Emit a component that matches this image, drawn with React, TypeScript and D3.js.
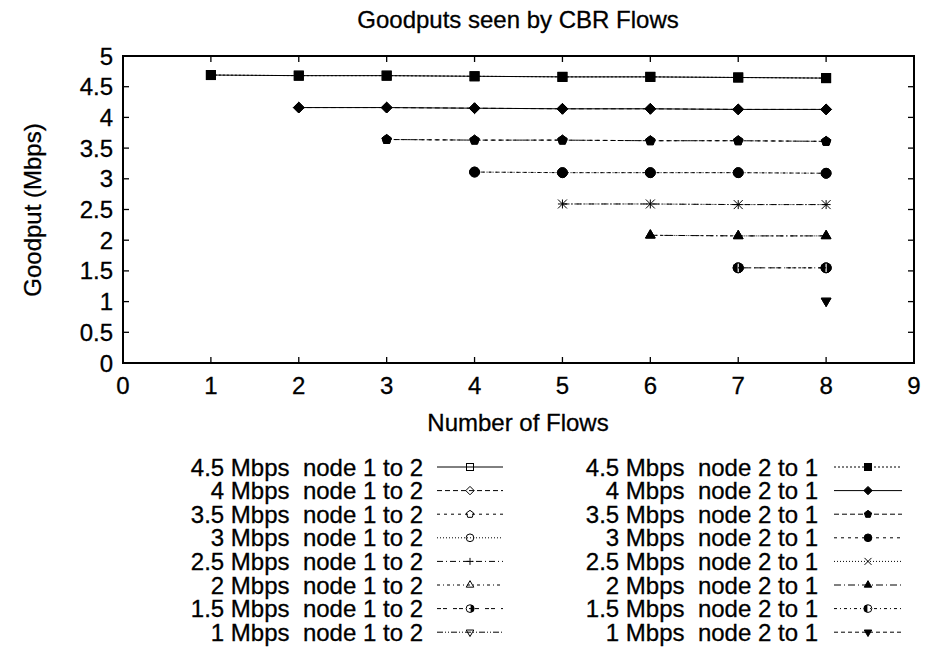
import React from "react";
import * as d3 from "d3";

const flowCounts = [1, 2, 3, 4, 5, 6, 7, 8];
const xTicks = [0, 1, 2, 3, 4, 5, 6, 7, 8, 9];
const yTicks = [0, 0.5, 1, 1.5, 2, 2.5, 3, 3.5, 4, 4.5, 5];
const yTickLabels = ["0", "0.5", "1", "1.5", "2", "2.5", "3", "3.5", "4", "4.5", "5"];
const rateLabels = ["4.5", "4", "3.5", "3", "2.5", "2", "1.5", "1"];

// node 2 to 1 goodputs, series k starts at flowCounts[k]
const g21_45 = [4.69, 4.68, 4.68, 4.67, 4.66, 4.66, 4.65, 4.64];
const g21_40 = [4.16, 4.16, 4.15, 4.14, 4.14, 4.13, 4.13];
const g21_35 = [3.64, 3.63, 3.63, 3.62, 3.62, 3.61];
const g21_30 = [3.11, 3.1, 3.1, 3.1, 3.09];
const g21_25 = [2.59, 2.59, 2.58, 2.58];
const g21_20 = [2.08, 2.07, 2.07];
const g21_15 = [1.55, 1.55];
const g21_10 = [1.01];

// node 1 to 2 goodputs (drawn underneath, same values)
const g12_45 = [4.69, 4.68, 4.68, 4.67, 4.66, 4.66, 4.65, 4.64];
const g12_40 = [4.16, 4.16, 4.15, 4.14, 4.14, 4.13, 4.13];
const g12_35 = [3.64, 3.63, 3.63, 3.62, 3.62, 3.61];
const g12_30 = [3.11, 3.1, 3.1, 3.1, 3.09];
const g12_25 = [2.59, 2.59, 2.58, 2.58];
const g12_20 = [2.08, 2.07, 2.07];
const g12_15 = [1.55, 1.55];
const g12_10 = [1.01];

const series21 = [g21_45, g21_40, g21_35, g21_30, g21_25, g21_20, g21_15, g21_10];
const series12 = [g12_45, g12_40, g12_35, g12_30, g12_25, g12_20, g12_15, g12_10];

const dash12 = ["none", "5,3", "3,4", "1,2", "6,3,1,3", "3,3,1,3", "4,2,4,6", "6,2,1,2,1,2"];
const mark12 = ["osquare", "odiamond", "opentagon", "ocircle", "plus", "otriangle", "halfR", "odown"];
const dash21 = ["2,2", "none", "5,3", "3,4", "1,2", "7,3,1,3", "3,3,1,3", "4,3"];
const mark21 = ["square", "diamond", "pentagon", "circle", "cross", "triangle", "halfL", "down"];

const FONT = "'Liberation Sans', Arial, Helvetica, sans-serif";

function T({ x, y, anchor = "middle", rotate = 0, children }: any) {
  return (
    <text
      transform={`translate(${x},${y}) rotate(${rotate})`}
      textAnchor={anchor}
      fontSize={24}
      fontFamily={FONT}
      fill="#000"
      stroke="#000"
      strokeWidth={0.3}
    >
      {children}
    </text>
  );
}

function Marker({ type, cx, cy, s }: any) {
  const st = { stroke: "#000", strokeWidth: 1 };
  const poly = (n: number, r: number, rot: number) =>
    d3.range(n).map((i) => {
      const a = rot + (i * 2 * Math.PI) / n;
      return [cx + r * Math.cos(a), cy + r * Math.sin(a)];
    });
  const pts = (p: number[][]) => p.map((q) => q.join(",")).join(" ");
  const open = type.startsWith("o");
  const fill = open ? "none" : "#000";
  const base = open ? type.slice(1) : type;
  switch (base) {
    case "square":
      return <rect x={cx - s / 2} y={cy - s / 2} width={s} height={s} fill={fill} {...st} />;
    case "diamond":
      return <polygon points={pts(poly(4, s * 0.6, -Math.PI / 2))} fill={fill} {...st} />;
    case "pentagon":
      return <polygon points={pts(poly(5, s * 0.55, -Math.PI / 2))} fill={fill} {...st} />;
    case "circle":
      return <circle cx={cx} cy={cy} r={s * 0.55} fill={fill} {...st} />;
    case "triangle":
      return <polygon points={pts(poly(3, s * 0.62, -Math.PI / 2))} fill={fill} {...st} />;
    case "down":
      return <polygon points={pts(poly(3, s * 0.62, Math.PI / 2))} fill={fill} {...st} />;
    case "plus":
      return (
        <g {...st}>
          <line x1={cx - s / 2} x2={cx + s / 2} y1={cy} y2={cy} />
          <line x1={cx} x2={cx} y1={cy - s / 2} y2={cy + s / 2} />
        </g>
      );
    case "cross":
      return (
        <g {...st}>
          <line x1={cx - s / 2} x2={cx + s / 2} y1={cy - s / 2} y2={cy + s / 2} />
          <line x1={cx - s / 2} x2={cx + s / 2} y1={cy + s / 2} y2={cy - s / 2} />
        </g>
      );
    case "halfL":
    case "halfR": {
      const r = s * 0.55;
      const left = base === "halfL";
      const arc = left
        ? `M${cx - 0.6},${cy - r} A${r},${r} 0 0 0 ${cx - 0.6},${cy + r} Z`
        : `M${cx + 0.6},${cy - r} A${r},${r} 0 0 1 ${cx + 0.6},${cy + r} Z`;
      return (
        <g>
          <circle cx={cx} cy={cy} r={r} fill="none" {...st} />
          <path d={arc} fill="#000" stroke="none" />
        </g>
      );
    }
  }
  return null;
}

export default function App() {
  const W = 929, H = 650;
  const x = d3.scaleLinear().domain([0, 9]).range([123, 914]);
  const y = d3.scaleLinear().domain([0, 5]).range([363, 56]);
  const line = d3.line<number[]>().x((d) => x(d[0])).y((d) => y(d[1]));
  const toPts = (vals: number[], k: number) => vals.map((v, i) => [flowCounts[k] + i, v]);

  const legendY0 = 467;
  const legendDY = 23.6;

  return (
    <svg width={W} height={H} style={{ position: "absolute", left: 0, top: 0, background: "#fff" }}>
      <rect width={W} height={H} fill="#fff" />
      <T x={518} y={28}>Goodputs seen by CBR Flows</T>
      {/* ticks */}
      <g stroke="#000" strokeWidth={1.3}>
        {xTicks.map((t) => (
          <g key={"xt" + t}>
            <line x1={x(t)} x2={x(t)} y1={y(0)} y2={y(0) - 6} />
            <line x1={x(t)} x2={x(t)} y1={y(5)} y2={y(5) + 6} />
          </g>
        ))}
        {yTicks.map((t) => (
          <g key={"yt" + t}>
            <line x1={x(0)} x2={x(0) + 6} y1={y(t)} y2={y(t)} />
            <line x1={x(9)} x2={x(9) - 6} y1={y(t)} y2={y(t)} />
          </g>
        ))}
      </g>
      {xTicks.map((t) => (
        <T key={"xl" + t} x={x(t)} y={394}>{String(t)}</T>
      ))}
      {yTicks.map((t, i) => (
        <T key={"yl" + t} x={113} y={y(t) + 8.5} anchor="end">{yTickLabels[i]}</T>
      ))}
      <T x={518} y={431}>Number of Flows</T>
      <T x={41} y={210} rotate={-90}>Goodput (Mbps)</T>

      {/* series node 1 to 2 */}
      {series12.map((vals, k) => (
        <g key={"s12" + k}>
          <path d={line(toPts(vals, k) as any) || ""} fill="none" stroke="#000" strokeWidth={1} strokeDasharray={dash12[k]} />
          {toPts(vals, k).map((p, i) => (
            <Marker key={i} type={mark12[k]} cx={x(p[0])} cy={y(p[1])} s={9} />
          ))}
        </g>
      ))}
      {/* series node 2 to 1 */}
      {series21.map((vals, k) => (
        <g key={"s21" + k}>
          <path d={line(toPts(vals, k) as any) || ""} fill="none" stroke="#000" strokeWidth={1} strokeDasharray={dash21[k]} />
          {toPts(vals, k).map((p, i) => (
            <Marker key={i} type={mark21[k]} cx={x(p[0])} cy={y(p[1])} s={9} />
          ))}
        </g>
      ))}

      <rect x={x(0)} y={y(5)} width={x(9) - x(0)} height={y(0) - y(5)} fill="none" stroke="#000" strokeWidth={2} />

      {/* legend */}
      {rateLabels.map((r, k) => {
        const cy = legendY0 + k * legendDY;
        return (
          <g key={"lg" + k}>
            <T x={423} y={cy + 8.5} anchor="end">{`${r} Mbps\u00a0\u00a0node 1 to 2`}</T>
            <line x1={437} x2={503} y1={cy} y2={cy} stroke="#000" strokeWidth={1} strokeDasharray={dash12[k]} />
            <Marker type={mark12[k]} cx={470} cy={cy} s={7} />
            <T x={818} y={cy + 8.5} anchor="end">{`${r} Mbps\u00a0\u00a0node 2 to 1`}</T>
            <line x1={834} x2={902} y1={cy} y2={cy} stroke="#000" strokeWidth={1} strokeDasharray={dash21[k]} />
            <Marker type={mark21[k]} cx={868} cy={cy} s={7} />
          </g>
        );
      })}
    </svg>
  );
}
